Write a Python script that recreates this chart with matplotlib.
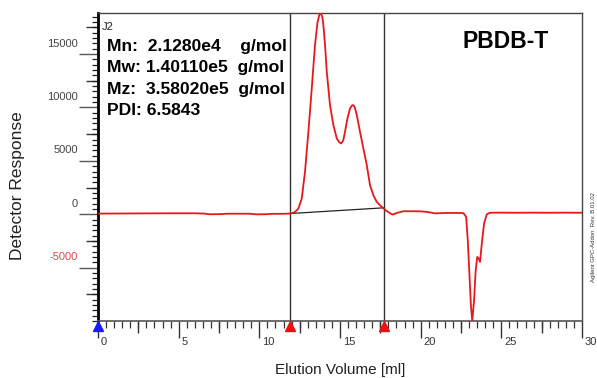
import matplotlib
matplotlib.use("Agg")
import matplotlib.pyplot as plt
from matplotlib.ticker import MultipleLocator
from matplotlib.transforms import ScaledTranslation, offset_copy

plt.rcParams['font.family'] = ['Liberation Sans', 'DejaVu Sans']

# GPC trace: elution volume (ml) vs detector response
elution_ml = [0, 1.5, 3, 4.5, 6, 6.6, 6.9, 7.6, 8.0, 9.4, 9.8, 10.4, 10.8, 11.5,
              11.95, 12.2, 12.42, 12.63, 12.83, 13.04, 13.25, 13.45, 13.6, 13.72,
              13.81, 13.9, 13.97, 14.08, 14.18, 14.38, 14.59, 14.80, 14.95, 15.07,
              15.2, 15.31, 15.45, 15.62, 15.75, 15.83, 15.92, 16.04, 16.24, 16.45,
              16.66, 16.86, 17.07, 17.28, 17.48, 17.69, 17.85, 18.0, 18.15, 18.27,
              18.4, 18.52, 18.93, 19.55, 20.0, 20.38, 20.89, 21.51, 22.2, 22.65,
              22.82, 22.92, 23.02, 23.12, 23.2, 23.31, 23.41, 23.51, 23.6, 23.68,
              23.79, 23.93, 24.1, 24.3, 25, 26, 27, 28, 29, 30]
response = [60, 70, 80, 90, 90, 60, 0, 10, 50, 50, -10, 0, 40, 40,
            70, 200, 535, 1470, 3970, 7720, 11790, 15850, 17900, 18700,
            18850, 18500, 17730, 15700, 13350, 10220, 8350, 7100, 6750, 6630,
            6900, 7720, 8900, 9910, 10200, 10220, 10000, 9290, 7720, 6160,
            4600, 2720, 1780, 1150, 840, 560, 350, 200, 50, -30,
            40, 120, 280, 280, 270, 220, 80, 120, 120, 110,
            -250, -2440, -5560, -8690, -10000, -8070, -5250, -4000, -4160, -4470,
            -2750, -870, 0, 140, 150, 140, 150, 140, 150, 140]

# integration window and its baseline
integration_limits = [11.9, 17.7]
baseline_levels = [65, 600]
start_marker = [0]

x_tick_labels = ['0', '5', '10', '15', '20', '25', '30']
y_tick_values = [-5000, 0, 5000, 10000, 15000]
y_tick_labels = ['-5000', '0', '5000', '10000', '15000']

stats_lines = ['Mn:  2.1280e4    g/mol',
               'Mw: 1.40110e5  g/mol',
               'Mz:  3.58020e5  g/mol',
               'PDI: 6.5843']

W, H = 597, 378
fig = plt.figure(figsize=(W / 100, H / 100), dpi=100)
ax = fig.add_axes([98 / W, 57 / H, 484 / W, 308 / H])
ax.set_xlim(0, 30)
ax.set_ylim(-10000, 18850)

# integration limits and baseline
for xv in integration_limits:
    ax.axvline(xv, color='#333333', lw=1.0, zorder=2)
ax.plot(integration_limits, baseline_levels, color='#222222', lw=0.9, zorder=2)

ax.plot(elution_ml, response, color='#e8171c', lw=1.3, zorder=3)

# spines
for s in ['top', 'right']:
    ax.spines[s].set_color('#444444')
    ax.spines[s].set_linewidth(1.0)
ax.spines['left'].set_color('black')
ax.spines['left'].set_linewidth(2.0)
ax.spines['bottom'].set_color('#555555')
ax.spines['bottom'].set_linewidth(1.2)

# x axis ticks
ax.set_xticks(range(0, 31, 5))
ax.set_xticklabels(x_tick_labels)
ax.xaxis.set_minor_locator(MultipleLocator(0.5))
ax.tick_params(axis='x', which='major', direction='out', length=12.2, width=1.0,
               color='#333333', labelsize=8, labelcolor='#333333', pad=-1.0)
ax.tick_params(axis='x', which='minor', direction='out', length=5, width=0.9,
               color='#333333')
for lbl in ax.get_xticklabels():
    lbl.set_horizontalalignment('left')
    lbl.set_transform(lbl.get_transform() +
                      ScaledTranslation(3 / 100, 0, fig.dpi_scale_trans))

secx = ax.secondary_xaxis('bottom')
secx.set_xticks([2.5, 7.5, 12.5, 17.5, 22.5, 27.5])
secx.tick_params(axis='x', direction='out', length=8.6, width=1.0,
                 color='#333333', labelbottom=False)
secx.spines['bottom'].set_visible(False)

# y axis ticks
ax.set_yticks(y_tick_values)
ax.set_yticklabels(y_tick_labels)
ax.yaxis.set_minor_locator(MultipleLocator(500))
ax.tick_params(axis='y', which='major', direction='out', length=13.7, width=1.0,
               color='#555555', labelsize=8, labelcolor='#444444', pad=0.7)
ax.tick_params(axis='y', which='minor', direction='out', length=4.3, width=0.9,
               color='#222222')
for lbl in ax.get_yticklabels():
    lbl.set_transform(lbl.get_transform() +
                      ScaledTranslation(0, 11.5 / 100, fig.dpi_scale_trans))
    if lbl.get_text().startswith('-'):
        lbl.set_color('#e04848')

secy = ax.secondary_yaxis('left')
secy.set_yticks([-7500, -2500, 2500, 7500, 12500, 17500])
secy.tick_params(axis='y', direction='out', length=8.6, width=1.0,
                 color='#333333', labelleft=False)
secy.spines['left'].set_visible(False)

# integration markers on the volume axis
mark_tr = offset_copy(ax.get_xaxis_transform(), fig=fig, y=-4.5, units='dots')
ax.plot(start_marker, [0], marker='^', ms=7, color='#1a1aff', ls='none',
        transform=mark_tr, clip_on=False, zorder=5)
ax.plot(integration_limits, [0, 0], marker='^', ms=7, color='#ee1111', ls='none',
        transform=mark_tr, clip_on=False, zorder=5)

ax.set_xlabel('Elution Volume [ml]', fontsize=11, color='#222222', va='center')
ax.xaxis.set_label_coords((340 - 98) / 484, (321 - 370) / 308)
ax.set_ylabel('Detector Response', fontsize=12.5, color='#222222', va='center')
ax.yaxis.set_label_coords((17.5 - 98) / 484, (321 - 186) / 308)

# annotations
fig.text(102 / W, 1 - 30 / H, 'J2', fontsize=8, color='#222222', va='baseline')
for i, line in enumerate(stats_lines):
    fig.text(107 / W, 1 - (51 + 21.3 * i) / H, line, fontsize=12.6,
             fontweight='bold', color='black', va='baseline')
fig.text(462 / W, 1 - 42 / H, 'PBDB-T', fontsize=16.5, fontweight='bold',
         color='black', va='center')
fig.text(593 / W, 1 - 237 / H, 'Agilent GPC-Addon  Rev. B.01.02', rotation=90,
         fontsize=4.3, color='#333333', ha='center', va='center')

fig.savefig('out.png', dpi=100)
